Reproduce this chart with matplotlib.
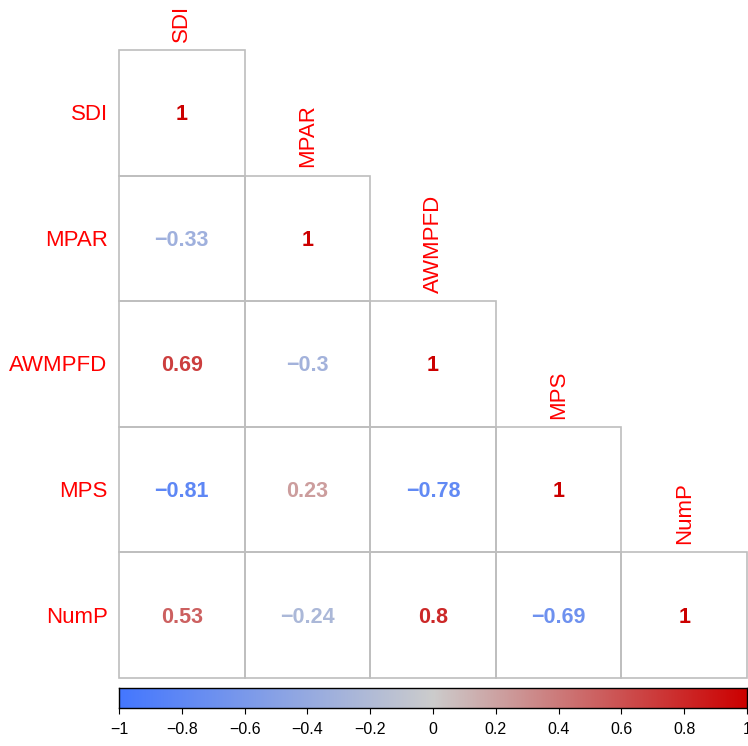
import numpy as np
import matplotlib.pyplot as plt
from matplotlib.colors import LinearSegmentedColormap
from matplotlib.patches import Rectangle

plt.rcParams['font.family'] = ['Liberation Sans', 'DejaVu Sans']

# variables and lower-triangle correlation values
names = ['SDI', 'MPAR', 'AWMPFD', 'MPS', 'NumP']
r_mpar = [-0.33]
r_awmpfd = [0.69, -0.3]
r_mps = [-0.81, 0.23, -0.78]
r_nump = [0.53, -0.24, 0.8, -0.69]
cb_ticks = [-1, -0.8, -0.6, -0.4, -0.2, 0, 0.2, 0.4, 0.6, 0.8, 1]

n = len(names)
corr = np.eye(n)
for i, row in enumerate([r_mpar, r_awmpfd, r_mps, r_nump], start=1):
    corr[i, :i] = row

cmap = LinearSegmentedColormap.from_list('bgr', ['#4477FF', '#CCCCCC', '#CC0000'])

W, H = 748, 746
fig = plt.figure(figsize=(W / 100, H / 100), dpi=100)

# matrix area in pixels: x 119..747, y 50..678
x0, x1, y0, y1 = 119, 747, 50, 678
ax = fig.add_axes([x0 / W, 1 - y1 / H, (x1 - x0) / W, (y1 - y0) / H])
ax.set_xlim(0, n)
ax.set_ylim(n, 0)
ax.axis('off')

def fmt(v):
    s = ('%.2f' % v).rstrip('0').rstrip('.')
    return s.replace('-', '\u2212')

for i in range(n):
    for j in range(i + 1):
        ax.add_patch(Rectangle((j, i), 1, 1, fill=False, edgecolor='#BEBEBE',
                               lw=1.2, clip_on=False))
        v = corr[i, j]
        ax.text(j + 0.5, i + 0.515, fmt(v), ha='center', va='center',
                fontsize=15.5, fontweight='bold', color=cmap((v + 1) / 2))
    # row label on the left
    ax.text(-0.09, i + 0.515, names[i], ha='right', va='center',
            fontsize=16, color='red', clip_on=False)
    # column label above the diagonal cell
    ax.text(i + 0.5, i - 0.065, names[i], ha='center', va='bottom',
            rotation=90, fontsize=16, color='red', clip_on=False)

# colour legend
cax = fig.add_axes([x0 / W, 1 - 708 / H, (x1 - x0) / W, 20 / H])
grad = np.linspace(-1, 1, 256).reshape(1, -1)
cax.imshow(grad, aspect='auto', cmap=cmap, extent=[-1, 1, 0, 1])
cax.set_xlim(-1, 1)
cax.set_yticks([])
cax.set_xticks(cb_ticks)
cax.set_xticklabels([fmt(t) for t in cb_ticks], fontsize=11.5)
cax.tick_params(axis='x', length=4, width=0.8, pad=6)
for sp in cax.spines.values():
    sp.set_linewidth(1)

fig.savefig('out.png', dpi=100)
